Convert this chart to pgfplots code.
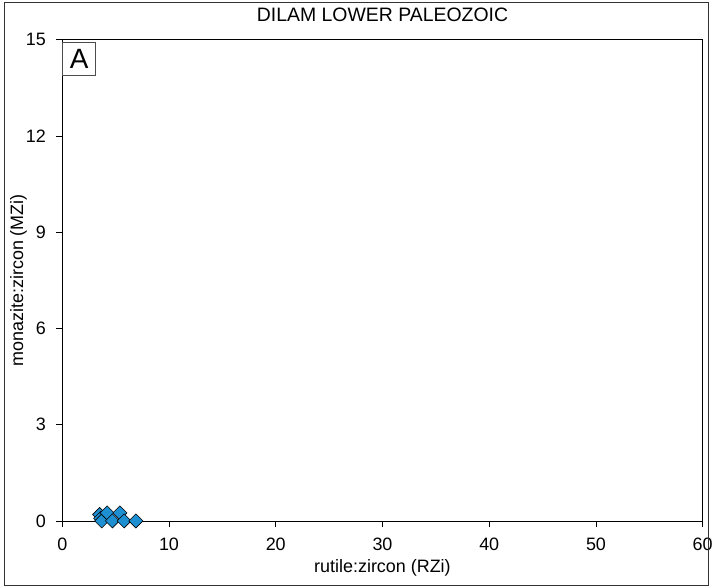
\documentclass[border=0pt]{standalone}
\usepackage{fontspec}
\setmainfont{Liberation Sans}
\usepackage{pgfplots}
\pgfplotsset{compat=1.18}
\definecolor{mk}{RGB}{30,144,210}
\begin{document}
\begin{tikzpicture}
\begin{axis}[
  name=ax,
  scale only axis,
  width=643pt, height=483pt,
  xmin=0, xmax=60, ymin=0, ymax=15,
  xtick={0,10,...,60}, ytick={0,3,...,15},
  tick align=outside, major tick length=6pt,
  xtick pos=bottom, ytick pos=left,
  axis line style={black, line width=0.8pt},
  every tick/.style={black, line width=0.8pt},
  /pgf/number format/assume math mode=true,
  ticklabel style={font=\fontsize{18}{21}\selectfont},
  xticklabel style={yshift=-8pt},
  yticklabel style={xshift=-7pt},
  label style={font=\fontsize{18}{21}\selectfont},
  xlabel={rutile:zircon (RZi)},
  ylabel={monazite:zircon (MZi)},
  xlabel style={at={(rel axis cs:0.5,0)}, anchor=center, yshift=-47pt},
  ylabel style={at={(rel axis cs:0,0.5)}, anchor=center, yshift=44pt},
  clip=false,
]
\addplot[only marks, mark=square*, mark size=5pt,
  mark options={rotate=45, fill=mk, draw=black, line width=0.6pt}]
  coordinates {
  (3.5,0.2) (3.6,0.08) (3.7,0) (4.2,0.25) (4.7,0) (5.4,0.25) (5.8,0) (6.9,0)
  };
\node[font=\fontsize{19.5}{22}\selectfont, anchor=center] at ([yshift=25pt]rel axis cs:0.5,1) {DILAM LOWER PALEOZOIC};
\node[draw=black!70, line width=0.8pt, anchor=north west, minimum width=33pt, minimum height=33pt, inner sep=0pt,
  font=\fontsize{28}{30}\selectfont] at ([yshift=-2pt]rel axis cs:0,1) {A};
\end{axis}
\draw[line width=1pt, black!80] ([xshift=-57.5pt,yshift=-65pt]ax.south west) rectangle ([xshift=648.5pt,yshift=520pt]ax.south west);
\useasboundingbox ([xshift=-62.5pt,yshift=-67pt]ax.south west) rectangle ([xshift=653.5pt,yshift=523pt]ax.south west);
\end{tikzpicture}
\end{document}
